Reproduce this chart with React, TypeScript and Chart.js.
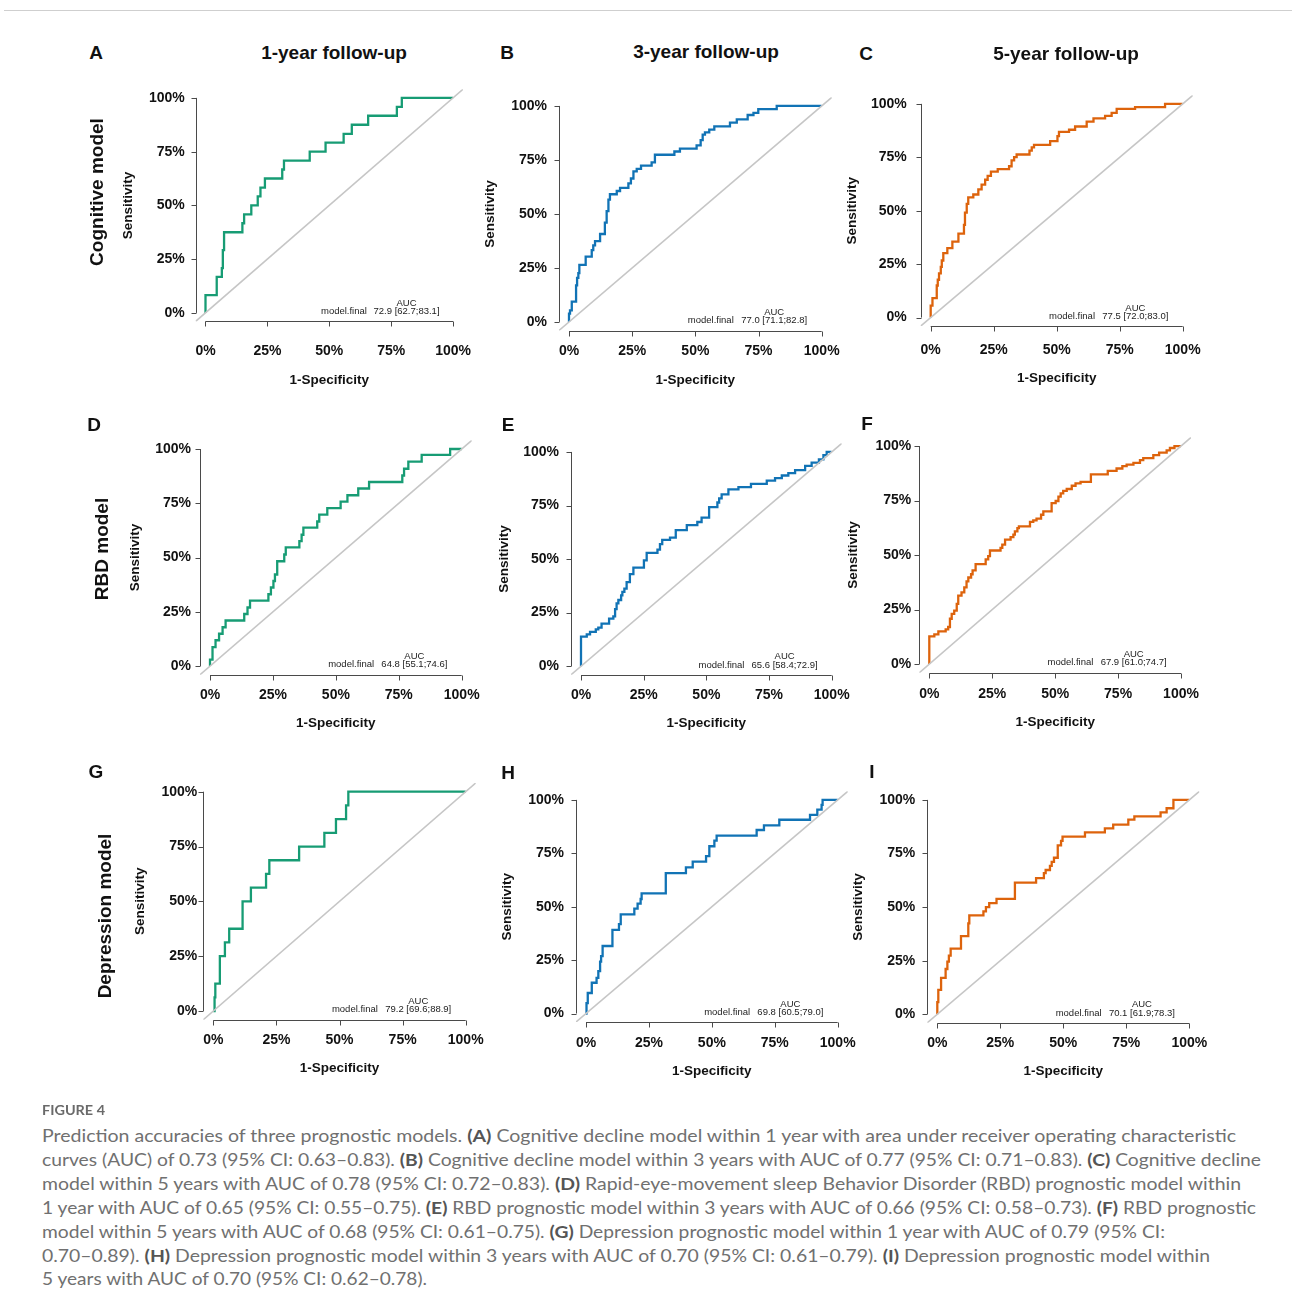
import React, { useEffect, useLayoutEffect, useRef } from "react";
import { Chart, registerables } from "chart.js";

Chart.register(...registerables);

// ---------- shared axis values ----------
const TICK_VALUES = [0, 0.25, 0.5, 0.75, 1];
const TICK_LABELS = ["0%", "25%", "50%", "75%", "100%"];
const AXIS_RANGE = [-0.04, 1.04];
const DIAGONAL = [-0.04, 1.04];

// ---------- ROC step corners: (1-specificity at the rise, sensitivity before the rise) ----------
const A_FPR = [0, 0.044, 0.046, 0.066, 0.07, 0.075, 0.149, 0.156, 0.185, 0.211, 0.222, 0.24, 0.31, 0.317, 0.421, 0.485, 0.558, 0.591, 0.657, 0.773, 0.793, 1];
const A_TPR = [0, 0.083, 0.125, 0.167, 0.208, 0.292, 0.375, 0.417, 0.458, 0.5, 0.542, 0.583, 0.625, 0.667, 0.708, 0.75, 0.792, 0.833, 0.875, 0.917, 0.958, 1];

const B_FPR = [0, 0.004, 0.011, 0.028, 0.032, 0.037, 0.041, 0.066, 0.09, 0.096, 0.103, 0.123, 0.142, 0.149, 0.156, 0.162, 0.189, 0.202, 0.235, 0.245, 0.255, 0.268, 0.285, 0.327, 0.34, 0.417, 0.439, 0.505, 0.521, 0.529, 0.538, 0.555, 0.575, 0.637, 0.664, 0.707, 0.73, 0.749, 0.822, 1];
const B_TPR = [0, 0.038, 0.053, 0.094, 0.169, 0.204, 0.226, 0.264, 0.302, 0.332, 0.354, 0.374, 0.407, 0.46, 0.513, 0.566, 0.591, 0.606, 0.621, 0.641, 0.664, 0.697, 0.709, 0.724, 0.739, 0.774, 0.789, 0.802, 0.817, 0.842, 0.867, 0.878, 0.89, 0.905, 0.923, 0.938, 0.958, 0.968, 0.985, 1];

const C_FPR = [0, 0.007, 0.024, 0.028, 0.033, 0.04, 0.044, 0.05, 0.066, 0.086, 0.11, 0.132, 0.136, 0.143, 0.149, 0.169, 0.189, 0.202, 0.216, 0.226, 0.239, 0.266, 0.311, 0.321, 0.331, 0.341, 0.392, 0.401, 0.41, 0.474, 0.503, 0.509, 0.549, 0.573, 0.619, 0.646, 0.692, 0.718, 0.738, 0.811, 0.93, 1];
const C_TPR = [0, 0.056, 0.091, 0.15, 0.177, 0.207, 0.237, 0.267, 0.302, 0.325, 0.355, 0.393, 0.434, 0.491, 0.532, 0.562, 0.576, 0.6, 0.622, 0.645, 0.663, 0.683, 0.695, 0.708, 0.736, 0.751, 0.763, 0.781, 0.796, 0.808, 0.826, 0.849, 0.869, 0.879, 0.894, 0.917, 0.932, 0.944, 0.958, 0.977, 0.985, 1];

const D_FPR = [0, 0.01, 0.022, 0.036, 0.05, 0.062, 0.136, 0.149, 0.159, 0.232, 0.242, 0.252, 0.258, 0.267, 0.295, 0.301, 0.355, 0.364, 0.371, 0.426, 0.434, 0.466, 0.519, 0.546, 0.589, 0.632, 0.764, 0.771, 0.788, 0.841, 0.954, 1];
const D_TPR = [0, 0.03, 0.087, 0.119, 0.149, 0.179, 0.21, 0.24, 0.27, 0.302, 0.331, 0.362, 0.392, 0.422, 0.483, 0.514, 0.547, 0.576, 0.605, 0.638, 0.666, 0.698, 0.728, 0.758, 0.787, 0.818, 0.848, 0.878, 0.909, 0.942, 0.973, 1];

const E_FPR = [0, 0.023, 0.036, 0.059, 0.069, 0.082, 0.112, 0.129, 0.136, 0.142, 0.149, 0.16, 0.165, 0.173, 0.182, 0.195, 0.209, 0.251, 0.262, 0.305, 0.315, 0.324, 0.355, 0.378, 0.422, 0.464, 0.481, 0.511, 0.544, 0.551, 0.561, 0.588, 0.628, 0.678, 0.741, 0.774, 0.801, 0.827, 0.854, 0.894, 0.92, 0.949, 0.967, 0.98, 1];
const E_TPR = [0, 0.138, 0.149, 0.16, 0.172, 0.18, 0.199, 0.222, 0.233, 0.266, 0.293, 0.309, 0.331, 0.347, 0.362, 0.392, 0.43, 0.46, 0.494, 0.529, 0.544, 0.57, 0.59, 0.6, 0.635, 0.658, 0.673, 0.693, 0.742, 0.764, 0.783, 0.802, 0.825, 0.836, 0.851, 0.866, 0.878, 0.89, 0.901, 0.915, 0.935, 0.95, 0.965, 0.985, 1];

const F_FPR = [0, 0.02, 0.036, 0.065, 0.075, 0.082, 0.089, 0.099, 0.109, 0.115, 0.128, 0.139, 0.148, 0.155, 0.166, 0.172, 0.184, 0.224, 0.234, 0.241, 0.283, 0.29, 0.301, 0.323, 0.334, 0.34, 0.35, 0.356, 0.4, 0.413, 0.426, 0.444, 0.453, 0.486, 0.502, 0.513, 0.522, 0.532, 0.546, 0.566, 0.581, 0.601, 0.642, 0.709, 0.744, 0.767, 0.784, 0.811, 0.837, 0.85, 0.89, 0.913, 0.943, 0.956, 0.974, 1];
const F_TPR = [0, 0.127, 0.136, 0.15, 0.159, 0.17, 0.208, 0.23, 0.245, 0.276, 0.314, 0.329, 0.352, 0.379, 0.397, 0.412, 0.43, 0.458, 0.48, 0.495, 0.521, 0.533, 0.548, 0.571, 0.582, 0.594, 0.609, 0.624, 0.632, 0.652, 0.659, 0.667, 0.685, 0.7, 0.738, 0.748, 0.768, 0.783, 0.794, 0.803, 0.818, 0.829, 0.836, 0.87, 0.886, 0.897, 0.908, 0.915, 0.923, 0.935, 0.945, 0.958, 0.97, 0.98, 0.991, 1];

const G_FPR = [0, 0.005, 0.008, 0.026, 0.046, 0.063, 0.116, 0.149, 0.209, 0.222, 0.34, 0.44, 0.486, 0.526, 0.535, 1];
const G_TPR = [0, 0, 0.0625, 0.125, 0.25, 0.3125, 0.375, 0.5, 0.5625, 0.625, 0.6875, 0.75, 0.8125, 0.875, 0.9375, 1];

const H_FPR = [0, 0.003, 0.007, 0.023, 0.042, 0.049, 0.056, 0.06, 0.066, 0.105, 0.131, 0.138, 0.192, 0.205, 0.217, 0.221, 0.317, 0.397, 0.424, 0.477, 0.49, 0.51, 0.519, 0.678, 0.707, 0.768, 0.89, 0.919, 0.936, 0.94, 1];
const H_TPR = [0, 0, 0.049, 0.096, 0.144, 0.167, 0.198, 0.243, 0.269, 0.316, 0.392, 0.418, 0.464, 0.491, 0.514, 0.536, 0.562, 0.657, 0.684, 0.711, 0.737, 0.783, 0.809, 0.833, 0.859, 0.881, 0.907, 0.93, 0.954, 0.977, 1];

const I_FPR = [0, 0.004, 0.015, 0.033, 0.04, 0.046, 0.053, 0.094, 0.123, 0.127, 0.183, 0.193, 0.206, 0.235, 0.308, 0.392, 0.423, 0.43, 0.447, 0.454, 0.463, 0.478, 0.491, 0.497, 0.586, 0.665, 0.698, 0.758, 0.782, 0.886, 0.91, 0.937, 1];
const I_TPR = [0, 0.056, 0.114, 0.17, 0.211, 0.245, 0.273, 0.306, 0.364, 0.424, 0.461, 0.48, 0.5, 0.518, 0.538, 0.614, 0.635, 0.658, 0.673, 0.692, 0.711, 0.73, 0.788, 0.809, 0.829, 0.848, 0.867, 0.885, 0.908, 0.923, 0.942, 0.961, 1];

const AUC_TEXT = ["72.9 [62.7;83.1]", "77.0 [71.1;82.8]", "77.5 [72.0;83.0]", "64.8 [55.1;74.6]", "65.6 [58.4;72.9]", "67.9 [61.0;74.7]", "79.2 [69.6;88.9]", "69.8 [60.5;79.0]", "70.1 [61.9;78.3]"];
const PANEL_LETTERS = ["A", "B", "C", "D", "E", "F", "G", "H", "I"];
const COLUMN_TITLES = ["1-year follow-up", "3-year follow-up", "5-year follow-up"];
const ROW_TITLES = ["Cognitive model", "RBD model", "Depression model"];

const CAPTION_LINES = [
  "Prediction accuracies of three prognostic models. (A) Cognitive decline model within 1 year with area under receiver operating characteristic",
  "curves (AUC) of 0.73 (95% CI: 0.63\u20130.83). (B) Cognitive decline model within 3 years with AUC of 0.77 (95% CI: 0.71\u20130.83). (C) Cognitive decline",
  "model within 5 years with AUC of 0.78 (95% CI: 0.72\u20130.83). (D) Rapid-eye-movement sleep Behavior Disorder (RBD) prognostic model within",
  "1 year with AUC of 0.65 (95% CI: 0.55\u20130.75). (E) RBD prognostic model within 3 years with AUC of 0.66 (95% CI: 0.58\u20130.73). (F) RBD prognostic",
  "model within 5 years with AUC of 0.68 (95% CI: 0.61\u20130.75). (G) Depression prognostic model within 1 year with AUC of 0.79 (95% CI:",
  "0.70\u20130.89). (H) Depression prognostic model within 3 years with AUC of 0.70 (95% CI: 0.61\u20130.79). (I) Depression prognostic model within",
  "5 years with AUC of 0.70 (95% CI: 0.62\u20130.78).",
];

// ---------- styles / layout (kept apart from the data) ----------
const GREEN = "#179c74";
const BLUE = "#1173b5";
const ORANGE = "#dd630c";
const SANS = '"Liberation Sans", Arial, Helvetica, sans-serif';

const PANEL_LAYOUT = [
  { x0: 205.7, x1: 458.3, y0: 312.7, y1: 93.3, yLabGap: 21, xLabY: 351, xTitleY: 380, yTitleX: 128, letterX: 96, letterY: 52 },
  { x0: 569, x1: 821.7, y0: 321.7, y1: 100.7, yLabGap: 22, xLabY: 351, xTitleY: 380, yTitleX: 490, letterX: 507, letterY: 52 },
  { x0: 930.7, x1: 1182.7, y0: 317.3, y1: 96.7, yLabGap: 24, xLabY: 350, xTitleY: 378, yTitleX: 852, letterX: 866, letterY: 53 },
  { x0: 210, x1: 461.7, y0: 666, y1: 446.7, yLabGap: 19, xLabY: 695, xTitleY: 723, yTitleX: 135, letterX: 94, letterY: 424 },
  { x0: 581, x1: 831.7, y0: 666, y1: 446.7, yLabGap: 22, xLabY: 695, xTitleY: 723, yTitleX: 504, letterX: 508, letterY: 424 },
  { x0: 929.3, x1: 1181, y0: 664, y1: 444, yLabGap: 18, xLabY: 694, xTitleY: 722, yTitleX: 853, letterX: 867, letterY: 423 },
  { x0: 213.3, x1: 465.7, y0: 1011, y1: 791.7, yLabGap: 16, xLabY: 1040, xTitleY: 1068, yTitleX: 140, letterX: 96, letterY: 771 },
  { x0: 586, x1: 837.7, y0: 1013.3, y1: 794, yLabGap: 22, xLabY: 1043, xTitleY: 1071, yTitleX: 507, letterX: 508, letterY: 772 },
  { x0: 937.3, x1: 1189.3, y0: 1014, y1: 794, yLabGap: 22, xLabY: 1043, xTitleY: 1071, yTitleX: 858, letterX: 872, letterY: 771 },
];
const COLUMN_TITLE_POS = [{ x: 334, y: 52 }, { x: 706, y: 51 }, { x: 1066, y: 53 }];
const ROW_TITLE_POS = [{ x: 96, y: 192 }, { x: 101, y: 549 }, { x: 104, y: 916 }];
const CAPTION_TOPS = [1136, 1160, 1184, 1208, 1232, 1256, 1279];
const CAPTION_RIGHTS = [1236, 1261, 1241, 1256, 1165, 1210, 427];

const PANELS = [
  { fpr: A_FPR, tpr: A_TPR, color: GREEN },
  { fpr: B_FPR, tpr: B_TPR, color: BLUE },
  { fpr: C_FPR, tpr: C_TPR, color: ORANGE },
  { fpr: D_FPR, tpr: D_TPR, color: GREEN },
  { fpr: E_FPR, tpr: E_TPR, color: BLUE },
  { fpr: F_FPR, tpr: F_TPR, color: ORANGE },
  { fpr: G_FPR, tpr: G_TPR, color: GREEN },
  { fpr: H_FPR, tpr: H_TPR, color: BLUE },
  { fpr: I_FPR, tpr: I_TPR, color: ORANGE },
];

function stepPoints(fpr: number[], tpr: number[]) {
  const pts: { x: number; y: number }[] = [];
  for (let i = 0; i < fpr.length; i++) {
    pts.push({ x: fpr[i], y: tpr[i] });
    if (i < fpr.length - 1) pts.push({ x: fpr[i], y: tpr[i + 1] });
  }
  return pts;
}

function computeGeom(L: any) {
  const w = L.x1 - L.x0;
  const h = L.y0 - L.y1;
  const aL = L.x0 - 0.04 * w;
  const aR = L.x1 + 0.04 * w;
  const aT = L.y1 - 0.04 * h;
  const aB = L.y0 + 0.04 * h;
  const left = Math.floor(aL) - 110;
  const top = Math.floor(aT) - 14;
  const width = Math.ceil(aR) + 24 - left;
  const height = Math.ceil(aB) + 92 - top;
  return {
    left, top, width, height,
    yw: aL - left,
    padTop: aT - top,
    padRight: left + width - aR,
    xh: top + height - aB,
    yTickPad: aL - (L.x0 - L.yLabGap),
    xTickPad: L.xLabY - aB - 8.4,
    yTitlePad: L.yTitleX - left - 8.1,
    xTitlePad: top + height - L.xTitleY - 8.1,
  };
}

function RocPanel({ index }: { index: number }) {
  const ref = useRef<HTMLCanvasElement>(null);
  const L = PANEL_LAYOUT[index];
  const g = computeGeom(L);
  const panel = PANELS[index];

  useEffect(() => {
    const auc = AUC_TEXT[index];
    const axisPlugin = {
      id: "rAxes" + index,
      afterDraw(chart: any) {
        const { ctx, chartArea } = chart;
        const xs = chart.scales.x;
        const ys = chart.scales.y;
        ctx.save();
        ctx.strokeStyle = "#4a4a4a";
        ctx.lineWidth = 1;
        ctx.beginPath();
        const ax = Math.round(chartArea.left) + 0.5;
        ctx.moveTo(ax, ys.getPixelForValue(TICK_VALUES[0]));
        ctx.lineTo(ax, ys.getPixelForValue(TICK_VALUES[TICK_VALUES.length - 1]));
        TICK_VALUES.forEach((v) => {
          const py = Math.round(ys.getPixelForValue(v)) + 0.5;
          ctx.moveTo(ax, py);
          ctx.lineTo(ax - 5, py);
        });
        const ay = Math.round(chartArea.bottom) + 0.5;
        ctx.moveTo(xs.getPixelForValue(TICK_VALUES[0]), ay);
        ctx.lineTo(xs.getPixelForValue(TICK_VALUES[TICK_VALUES.length - 1]), ay);
        TICK_VALUES.forEach((v) => {
          const px = Math.round(xs.getPixelForValue(v)) + 0.5;
          ctx.moveTo(px, ay);
          ctx.lineTo(px, ay + 5);
        });
        ctx.stroke();

        ctx.fillStyle = "#222";
        ctx.font = "9.5px " + SANS;
        ctx.textBaseline = "middle";
        ctx.textAlign = "center";
        ctx.fillText("AUC", xs.getPixelForValue(0.812), ys.getPixelForValue(0.045));
        ctx.fillText(auc, xs.getPixelForValue(0.812), ys.getPixelForValue(0.006));
        ctx.textAlign = "right";
        ctx.fillText("model.final", xs.getPixelForValue(0.652), ys.getPixelForValue(0.006));
        ctx.restore();
      },
    };

    const tickFont = { family: SANS, size: 14, weight: "bold" as const };
    const titleFont = { family: SANS, size: 13.5, weight: "bold" as const };

    const chart = new Chart(ref.current as HTMLCanvasElement, {
      type: "line",
      data: {
        datasets: [
          {
            data: DIAGONAL.map((v) => ({ x: v, y: v })),
            borderColor: "#c6c6c6",
            borderWidth: 1.6,
            pointRadius: 0,
          },
          {
            data: stepPoints(panel.fpr, panel.tpr),
            borderColor: panel.color,
            borderWidth: 2.3,
            pointRadius: 0,
            tension: 0,
            borderJoinStyle: "miter",
          },
        ],
      },
      options: {
        animation: false,
        responsive: false,
        events: [],
        layout: { padding: { left: 0, top: g.padTop, right: g.padRight, bottom: 0 } },
        plugins: { legend: { display: false }, tooltip: { enabled: false } },
        scales: {
          x: {
            type: "linear",
            min: AXIS_RANGE[0],
            max: AXIS_RANGE[1],
            afterBuildTicks: (s: any) => {
              s.ticks = TICK_VALUES.map((v) => ({ value: v }));
            },
            afterFit: (s: any) => {
              s.height = g.xh;
            },
            grid: { display: false, drawTicks: false },
            border: { display: false },
            ticks: {
              padding: g.xTickPad,
              autoSkip: false,
              maxRotation: 0,
              color: "#111",
              font: tickFont,
              callback: (_v: any, i: number) => TICK_LABELS[i],
            },
            title: {
              display: true,
              text: "1-Specificity",
              color: "#111",
              font: titleFont,
              padding: { top: 0, bottom: g.xTitlePad },
            },
          },
          y: {
            type: "linear",
            min: AXIS_RANGE[0],
            max: AXIS_RANGE[1],
            afterBuildTicks: (s: any) => {
              s.ticks = TICK_VALUES.map((v) => ({ value: v }));
            },
            afterFit: (s: any) => {
              s.width = g.yw;
            },
            grid: { display: false, drawTicks: false },
            border: { display: false },
            ticks: {
              padding: g.yTickPad,
              autoSkip: false,
              color: "#111",
              font: tickFont,
              callback: (_v: any, i: number) => TICK_LABELS[i],
            },
            title: {
              display: true,
              text: "Sensitivity",
              color: "#111",
              font: titleFont,
              padding: { top: g.yTitlePad, bottom: 0 },
            },
          },
        },
      } as any,
      plugins: [axisPlugin],
    });
    return () => chart.destroy();
  }, []);

  return (
    <canvas
      ref={ref}
      width={g.width}
      height={g.height}
      style={{ position: "absolute", left: g.left, top: g.top, width: g.width, height: g.height }}
    />
  );
}

function CenterText({ x, y, text, size, rotate }: { x: number; y: number; text: string; size: number; rotate?: boolean }) {
  return (
    <div
      style={{
        position: "absolute",
        left: x,
        top: y,
        transform: `translate(-50%, -50%)${rotate ? " rotate(-90deg)" : ""}`,
        whiteSpace: "nowrap",
        fontFamily: SANS,
        fontWeight: "bold",
        fontSize: size,
        lineHeight: 1,
        color: "#111",
      }}
    >
      {text}
    </div>
  );
}

function FitLine({ top, right, size, color, children, weight }: any) {
  const ref = useRef<HTMLDivElement>(null);
  useLayoutEffect(() => {
    const el = ref.current;
    if (!el) return;
    el.style.transform = "none";
    const w = el.getBoundingClientRect().width;
    if (w > 0) el.style.transform = `translateY(-50%) scaleX(${(right - 42) / w})`;
  }, []);
  return (
    <div
      ref={ref}
      style={{
        position: "absolute",
        left: 42,
        top,
        whiteSpace: "nowrap",
        transformOrigin: "0 50%",
        fontFamily: 'Lato, "Open Sans", sans-serif',
        fontSize: size,
        fontWeight: weight || 400,
        lineHeight: "22px",
        color,
      }}
    >
      {children}
    </div>
  );
}

function renderCaption(line: string) {
  const parts = line.split(/(\([A-I]\))/);
  return parts.map((p, i) =>
    /^\([A-I]\)$/.test(p) ? (
      <b key={i} style={{ color: "#555", fontWeight: 700 }}>
        {p}
      </b>
    ) : (
      <span key={i}>{p}</span>
    )
  );
}

export default function App() {
  return (
    <div
      style={{
        position: "absolute",
        left: 0,
        top: 0,
        width: 1292,
        height: 1311,
        background: "#fff",
        overflow: "hidden",
      }}
    >
      <div style={{ position: "absolute", left: 4, top: 10, width: 1288, height: 1, background: "#cfcfcf" }} />
      {PANELS.map((_, i) => (
        <RocPanel key={i} index={i} />
      ))}
      {PANEL_LETTERS.map((t, i) => (
        <CenterText key={t} x={PANEL_LAYOUT[i].letterX} y={PANEL_LAYOUT[i].letterY} text={t} size={19} />
      ))}
      {COLUMN_TITLES.map((t, i) => (
        <CenterText key={t} x={COLUMN_TITLE_POS[i].x} y={COLUMN_TITLE_POS[i].y} text={t} size={19} />
      ))}
      {ROW_TITLES.map((t, i) => (
        <CenterText key={t} x={ROW_TITLE_POS[i].x} y={ROW_TITLE_POS[i].y} text={t} size={19} rotate />
      ))}
      <FitLine top={1110} right={105} size={13} color="#6a6a6a" weight={700}>
        FIGURE 4
      </FitLine>
      {CAPTION_LINES.map((line, i) => (
        <FitLine key={i} top={CAPTION_TOPS[i]} right={CAPTION_RIGHTS[i]} size={17.5} color="#707070">
          {renderCaption(line)}
        </FitLine>
      ))}
    </div>
  );
}
